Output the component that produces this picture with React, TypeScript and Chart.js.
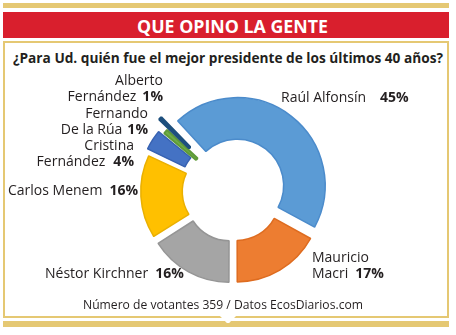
import React, { useEffect, useLayoutEffect, useRef } from 'react';
import { Chart, registerables } from 'chart.js';
Chart.register(...registerables);

// ---- data ----
const categories = ['Raúl Alfonsín', 'Mauricio Macri', 'Néstor Kirchner', 'Carlos Menem', 'Cristina Fernández', 'Fernando De la Rúa', 'Alberto Fernández'];
const values = [45, 17, 16, 16, 4, 1, 1];
const labelLines = [['Raúl Alfonsín'], ['Mauricio', 'Macri'], ['Néstor Kirchner'], ['Carlos Menem'], ['Cristina', 'Fernández'], ['Fernando', 'De la Rúa'], ['Alberto', 'Fernández']];
const title = 'QUE OPINO LA GENTE';
const question = '¿Para Ud. quién fue el mejor presidente de los últimos 40 años?';
const footer = 'Número de votantes 359 / Datos EcosDiarios.com';

// ---- styles / layout ----
const sliceColors = ['#5b9bd5', '#ed7d31', '#a5a5a5', '#ffc000', '#4472c4', '#70ad47', '#255e91'];
const sliceBorders = ['#4b8bcb', '#de6c20', '#959595', '#eab000', '#3762b2', '#5e9a38', '#1d4f7d'];
const sliceBorderWidths = [1.5, 1.5, 1.5, 1.5, 1.5, 2, 2.5];
const sliceOffsets = [28, 32, 32, 32, 28, 14, 41];
const labelLayout = [
  { x: 281, y: 97, align: 'left', gap: 14 },
  { x: 312, y: 257, align: 'left', gap: 7 },
  { x: 45, y: 273, align: 'left', gap: 7 },
  { x: 8, y: 190, align: 'left', gap: 7 },
  { x: 134, y: 145, align: 'right', gap: 8 },
  { x: 148, y: 113, align: 'right', gap: 5 },
  { x: 163, y: 80, align: 'right', gap: 6 },
];
const GOLD = '#e5c873';
const RED = '#d91f2d';
const TXT = '#231f20';
const FONT = '"Open Sans", "Noto Sans", sans-serif';

function FitText({ text, cx, cy, width, size, weight, color, lh }: any) {
  const ref = useRef<HTMLSpanElement>(null);
  useLayoutEffect(() => {
    const el = ref.current;
    if (!el) return;
    el.style.transform = 'none';
    const w = el.getBoundingClientRect().width;
    el.style.transform = `scaleX(${width / w})`;
  }, [text, width]);
  return (
    <div style={{ position: 'absolute', left: cx - width / 2, top: cy - lh / 2, width, height: lh, lineHeight: lh + 'px', whiteSpace: 'nowrap' }}>
      <span ref={ref} style={{ display: 'inline-block', transformOrigin: 'left center', fontFamily: FONT, fontSize: size, fontWeight: weight, color }}>{text}</span>
    </div>
  );
}

function Donut() {
  const ref = useRef<HTMLCanvasElement>(null);
  useEffect(() => {
    const chart = new Chart(ref.current!, {
      type: 'doughnut',
      data: {
        labels: categories,
        datasets: [{
          data: values,
          backgroundColor: sliceColors,
          borderColor: sliceBorders,
          borderWidth: sliceBorderWidths,
          offset: sliceOffsets,
        }],
      },
      options: {
        responsive: false,
        animation: false,
        rotation: -43.2,
        cutout: '50%',
        radius: 83,
        layout: { padding: 0 },
        plugins: { legend: { display: false }, tooltip: { enabled: false } },
      },
    });
    return () => chart.destroy();
  }, []);
  return <canvas ref={ref} width={240} height={220} style={{ position: 'absolute', left: 113, top: 81, width: 240, height: 220 }} />;
}

export default function App() {
  const LH = 16;
  return (
    <div style={{ position: 'absolute', left: 0, top: 0, width: 456, height: 335, background: '#fff', overflow: 'hidden', fontFamily: FONT, color: TXT }}>
      <div style={{ position: 'absolute', left: 3, top: 3, width: 446, height: 5, background: GOLD }} />
      <div style={{ position: 'absolute', left: 3, top: 12, width: 446, height: 26, background: RED }} />
      <FitText text={title} cx={232.5} cy={25.5} width={191} size={18} weight={700} color="#ffffff" lh={26} />
      <div style={{ position: 'absolute', left: 3, top: 41, width: 442, height: 273, border: `2px solid ${GOLD}` }} />
      <div style={{ position: 'absolute', left: 3, top: 321, width: 446, height: 6, background: GOLD }} />
      <div style={{ position: 'absolute', left: 217, top: 313, width: 22, height: 10, background: '#fff', clipPath: 'polygon(0 0, 100% 0, 55% 100%, 45% 100%)' }} />
      <FitText text={question} cx={228} cy={57} width={430} size={15} weight={700} color={TXT} lh={20} />
      <Donut />
      {labelLines.map((lines, i) => {
        const L = labelLayout[i];
        return lines.map((ln, j) => {
          const last = j === lines.length - 1;
          const style: any = {
            position: 'absolute', top: L.y + j * LH - LH / 2, height: LH, lineHeight: LH + 'px',
            whiteSpace: 'nowrap', fontSize: 14, color: TXT,
          };
          if (L.align === 'left') style.left = L.x; else style.right = 456 - L.x;
          return (
            <div key={i + '-' + j} style={style}>
              {ln}
              {last ? <span style={{ fontWeight: 700, marginLeft: L.gap }}>{values[i]}%</span> : null}
            </div>
          );
        });
      })}
      <FitText text={footer} cx={223} cy={303} width={280} size={13} weight={400} color={TXT} lh={18} />
    </div>
  );
}
